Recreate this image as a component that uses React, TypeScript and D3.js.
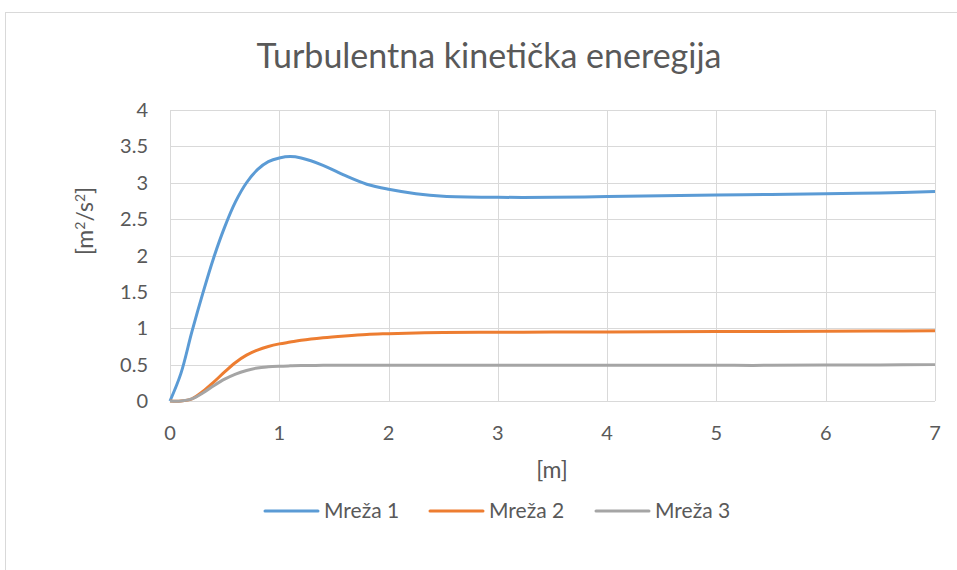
import { scaleLinear, line, curveCatmullRom } from 'd3';
import { useEffect } from 'react';

const WIDTH = 957;
const HEIGHT = 570;
const FONT = 'Lato, "Open Sans", sans-serif';
const TEXT_COLOR = '#595959';
const GRID_COLOR = '#d9d9d9';

const title = 'Turbulentna kinetička eneregija';
const xLabel = '[m]';
const seriesNames = ['Mreža 1', 'Mreža 2', 'Mreža 3'];
const seriesColors = ['#5b9bd5', '#ed7d31', '#a5a5a5'];

const xTicks = [0, 1, 2, 3, 4, 5, 6, 7];
const yTicks = [0, 0.5, 1, 1.5, 2, 2.5, 3, 3.5, 4];

const xValues = [
  0, 0.1, 0.2, 0.3, 0.4, 0.5, 0.6, 0.7, 0.8, 0.9, 1.0, 1.1, 1.2, 1.4, 1.6, 1.8,
  2.0, 2.25, 2.5, 3, 3.5, 4, 4.5, 5, 5.5, 6, 6.5, 7,
];
const mreza1 = [
  0, 0.38, 0.95, 1.48, 1.97, 2.39, 2.74, 3.0, 3.18, 3.29, 3.34, 3.36, 3.34,
  3.24, 3.1, 2.98, 2.91, 2.85, 2.815, 2.8, 2.8, 2.81, 2.82, 2.83, 2.84, 2.85,
  2.86, 2.88,
];
const mreza2 = [
  0, 0, 0.03, 0.13, 0.26, 0.4, 0.53, 0.63, 0.7, 0.75, 0.785, 0.81, 0.835, 0.87,
  0.895, 0.915, 0.925, 0.935, 0.94, 0.945, 0.948, 0.95, 0.952, 0.955, 0.957,
  0.96, 0.962, 0.965,
];
const mreza3 = [
  0, 0, 0.03, 0.11, 0.21, 0.3, 0.37, 0.42, 0.455, 0.47, 0.478, 0.483, 0.487,
  0.49, 0.49, 0.49, 0.49, 0.49, 0.49, 0.49, 0.49, 0.49, 0.49, 0.49, 0.49, 0.495,
  0.495, 0.5,
];
const allSeries = [mreza1, mreza2, mreza3];

const margin = { left: 170, right: 22, top: 110, bottom: 169 };

export default function App() {
  useEffect(() => {
    document.body.style.margin = '0';
  }, []);

  const x = scaleLinear()
    .domain([0, 7])
    .range([margin.left, WIDTH - margin.right]);
  const y = scaleLinear()
    .domain([0, 4])
    .range([HEIGHT - margin.bottom, margin.top]);

  const lineGen = line<number>()
    .x((_, i) => x(xValues[i]))
    .y(d => y(d))
    .curve(curveCatmullRom.alpha(0.5));

  const legendX = [265, 430, 596];

  return (
    <svg width={WIDTH} height={HEIGHT} style={{ display: 'block', background: '#fff' }}>
      <rect x={5.5} y={12.5} width={WIDTH} height={HEIGHT} fill="#fff" stroke={GRID_COLOR} />
      <text
        x={489}
        y={68}
        textAnchor="middle"
        fill={TEXT_COLOR}
        style={{ fontFamily: FONT, fontSize: 34 }}
      >
        {title}
      </text>

      {yTicks.map(t => (
        <g key={t}>
          <line
            x1={x(0)}
            x2={x(7)}
            y1={Math.round(y(t)) + 0.5}
            y2={Math.round(y(t)) + 0.5}
            stroke={GRID_COLOR}
          />
          <text
            x={148}
            y={y(t)}
            dy="0.35em"
            textAnchor="end"
            fill={TEXT_COLOR}
            style={{ fontFamily: FONT, fontSize: 20 }}
          >
            {t}
          </text>
        </g>
      ))}
      {xTicks.map(t => (
        <g key={t}>
          <line
            x1={Math.round(x(t)) + 0.5}
            x2={Math.round(x(t)) + 0.5}
            y1={y(0)}
            y2={y(4)}
            stroke={GRID_COLOR}
          />
          <text
            x={x(t)}
            y={440}
            textAnchor="middle"
            fill={TEXT_COLOR}
            style={{ fontFamily: FONT, fontSize: 20 }}
          >
            {t}
          </text>
        </g>
      ))}

      {allSeries.map((s, i) => (
        <path
          key={i}
          d={lineGen(s) ?? ''}
          fill="none"
          stroke={seriesColors[i]}
          strokeWidth={3}
          strokeLinejoin="round"
        />
      ))}

      <text
        transform="translate(93,221) rotate(-90)"
        textAnchor="middle"
        fill={TEXT_COLOR}
        style={{ fontFamily: FONT, fontSize: 23 }}
      >
        [m<tspan dy={-8} style={{ fontSize: 14 }}>2</tspan>
        <tspan dy={8}>/s</tspan>
        <tspan dy={-8} style={{ fontSize: 14 }}>2</tspan>
        <tspan dy={8}>]</tspan>
      </text>
      <text
        x={552}
        y={478}
        textAnchor="middle"
        fill={TEXT_COLOR}
        style={{ fontFamily: FONT, fontSize: 23 }}
      >
        {xLabel}
      </text>

      {seriesNames.map((name, i) => (
        <g key={name} transform={`translate(${legendX[i]},511)`}>
          <line x1={0} x2={53} y1={0} y2={0} stroke={seriesColors[i]} strokeWidth={3} strokeLinecap="round" />
          <text x={59} dy="0.35em" fill={TEXT_COLOR} style={{ fontFamily: FONT, fontSize: 21 }}>
            {name}
          </text>
        </g>
      ))}
    </svg>
  );
}
